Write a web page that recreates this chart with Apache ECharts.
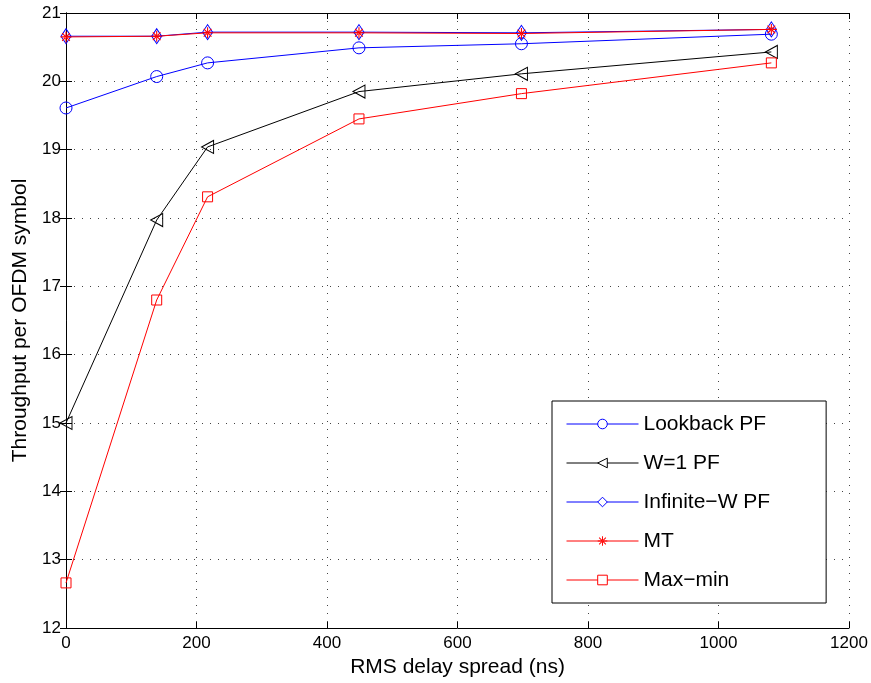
<!DOCTYPE html>
<html>
<head>
<meta charset="utf-8">
<script src="https://cdn.jsdelivr.net/npm/echarts@6/dist/echarts.min.js"></script>
<style>html,body{margin:0;padding:0;background:#fff}#c{width:871px;height:683px}</style>
</head>
<body>
<div id="c"></div>
<script>
const delay = [0, 139, 217, 449, 698, 1081];
const lookbackPF = [19.61, 20.07, 20.27, 20.49, 20.55, 20.69];
const w1PF = [15.0, 17.97, 19.04, 19.85, 20.11, 20.43];
const infiniteWPF = [20.66, 20.66, 20.72, 20.72, 20.71, 20.76];
const mt = [20.65, 20.66, 20.71, 20.71, 20.70, 20.76];
const maxMin = [12.66, 16.80, 18.31, 19.45, 19.82, 20.27];
const names = ['Lookback PF', 'W=1 PF', 'Infinite\u2212W PF', 'MT', 'Max\u2212min'];

const FONT = '"Liberation Sans", Arial, Helvetica, sans-serif';
const pair = (xs, ys) => xs.map((x, i) => [x, ys[i]]);
const asterisk = 'path://M-1,-10L1,-10L1,10L-1,10Z M-10,-1L10,-1L10,1L-10,1Z M-7.7,-6.3L-6.3,-7.7L7.7,6.3L6.3,7.7Z M-7.7,6.3L-6.3,7.7L7.7,-6.3L6.3,-7.7Z';
const triLeft = 'path://M0,5L10,0L10,10Z';

function mk(name, data, color, symbol, size, filled) {
  return {
    name, type: 'line', data, symbol, symbolSize: size,
    showAllSymbol: true,
    lineStyle: { color, width: 1 },
    itemStyle: filled ? { color, borderWidth: 0 } : { color: 'rgba(0,0,0,0)', borderColor: color, borderWidth: 1 },
    emphasis: { disabled: true },
    animation: false
  };
}

const axisCommon = {
  axisLine: { lineStyle: { color: '#000', width: 1 } },
  axisTick: { inside: true, length: 6, lineStyle: { color: '#000' } },
};

const legendData = names.map((n, i) => ({
  name: n,
  itemStyle: i === 3 ? { borderWidth: 0 } : { color: '#fff', borderWidth: 1 }
}));

const chart = echarts.init(document.getElementById('c'));
chart.setOption({
  backgroundColor: '#fff',
  animation: false,
  grid: { left: 66, right: 22, top: 13, bottom: 55 },
  xAxis: [{
    type: 'value', min: 0, max: 1200, interval: 200, position: 'bottom',
    ...axisCommon,
    axisLabel: { color: '#000', fontSize: 17, fontFamily: FONT, margin: 7, formatter: v => String(v) },
    splitLine: { show: true, lineStyle: { color: '#444', type: [1, 7], width: 1 } },
    name: 'RMS delay spread (ns)', nameLocation: 'middle', nameGap: 26,
    nameTextStyle: { color: '#000', fontSize: 21, fontFamily: FONT }
  }, {
    type: 'value', min: 0, max: 1200, interval: 200, position: 'top',
    ...axisCommon, axisLabel: { show: false }, splitLine: { show: false }
  }],
  yAxis: [{
    type: 'value', min: 12, max: 21, interval: 1, position: 'left',
    ...axisCommon,
    axisLabel: { color: '#000', fontSize: 17, fontFamily: FONT, margin: 5 },
    splitLine: { show: true, lineStyle: { color: '#444', type: [1, 7], width: 1 } },
    name: 'Throughput per OFDM symbol', nameLocation: 'middle', nameGap: 33,
    nameTextStyle: { color: '#000', fontSize: 21, fontFamily: FONT }
  }, {
    type: 'value', min: 12, max: 21, interval: 1, position: 'right',
    ...axisCommon, axisLabel: { show: false }, splitLine: { show: false }
  }],
  legend: {
    orient: 'vertical', left: 552, top: 401,
    data: legendData,
    itemWidth: 72, itemHeight: 12, itemGap: 17,
    padding: [12, 56, 12, 14],
    borderColor: '#000', borderWidth: 1, backgroundColor: '#fff',
    lineStyle: { width: 1 },
    textStyle: { color: '#000', fontSize: 21, fontFamily: FONT, lineHeight: 22 },
    selectedMode: false
  },
  series: [
    mk(names[0], pair(delay, lookbackPF), '#0000ff', 'circle', 12, false),
    mk(names[1], pair(delay, w1PF), '#000000', triLeft, [12, 13], false),
    mk(names[2], pair(delay, infiniteWPF), '#0000ff', 'diamond', [10, 15], false),
    mk(names[3], pair(delay, mt), '#ff0000', asterisk, 11, true),
    mk(names[4], pair(delay, maxMin), '#ff0000', 'rect', 10, false)
  ]
});
</script>
</body>
</html>
